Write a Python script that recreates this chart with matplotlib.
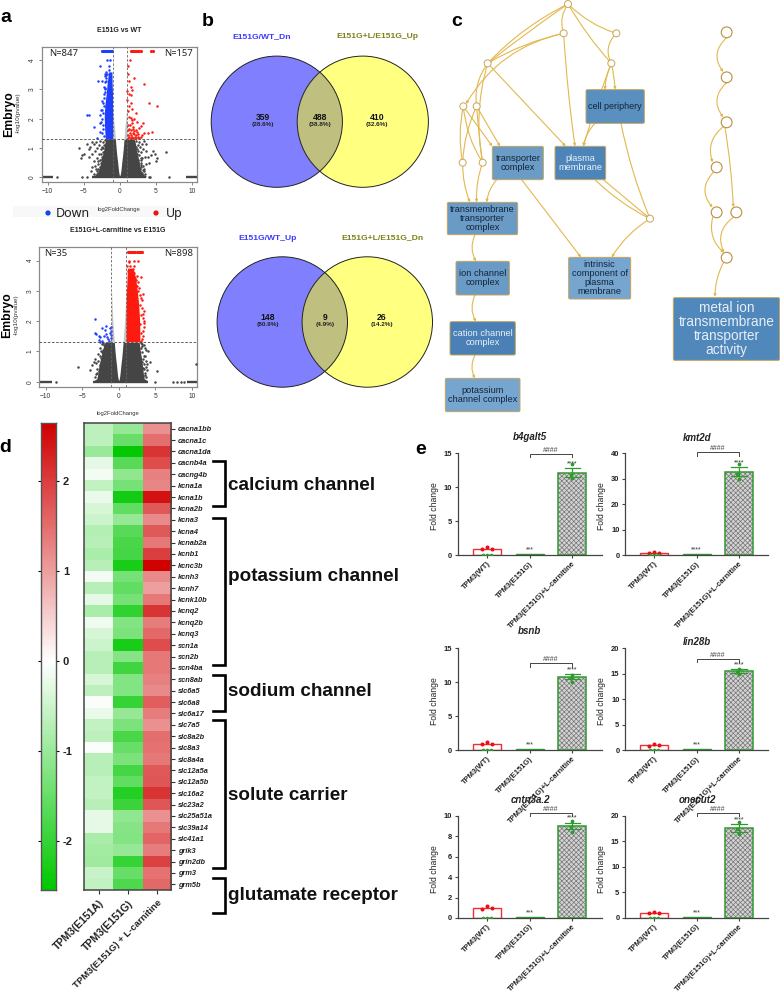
import numpy as np
import matplotlib
matplotlib.use('Agg')
import matplotlib.pyplot as plt
from matplotlib.colors import LinearSegmentedColormap, TwoSlopeNorm
from matplotlib.patches import Circle, FancyBboxPatch, FancyArrowPatch
from matplotlib.transforms import Affine2D

plt.rcParams['font.family'] = ['Liberation Sans', 'DejaVu Sans']
plt.rcParams['hatch.linewidth'] = 0.5
W, H = 780, 992
fig = plt.figure(figsize=(W/100, H/100), dpi=100, facecolor='white')

def axpx(l, t, r, b, **k):
    return fig.add_axes([l/W, 1-b/H, (r-l)/W, (b-t)/H], **k)

ov = fig.add_axes([0, 0, 1, 1], zorder=5)
ov.set_xlim(0, W); ov.set_ylim(H, 0); ov.axis('off'); ov.patch.set_alpha(0)

# ---------- a: volcano data
FDR = 1.3
v1_title = 'E151G vs WT'
v1_band_y = [0.02, 0.1, 0.2, 0.35, 0.55, 0.75, 0.95, 1.15, 1.3]
v1_outer_l = [-3.8, -3.3, -3.0, -2.8, -2.6, -2.4, -2.2, -2.1, -1.9]
v1_inner_l = [0.0, -0.08, -0.15, -0.22, -0.3, -0.4, -0.48, -0.55, -0.6]
v1_inner_r = [0.0, 0.08, 0.15, 0.22, 0.3, 0.4, 0.48, 0.55, 0.6]
v1_outer_r = [3.8, 3.3, 3.0, 2.8, 2.7, 2.5, 2.3, 2.2, 2.0]
v1_blue_y = [1.3, 1.7, 2.1, 2.5, 2.9, 3.2, 3.6]
v1_blue_l = [-2.0, -2.1, -2.15, -2.05, -1.85, -1.75, -1.55]
v1_blue_r = [-1.0, -1.0, -1.0, -1.0, -1.0, -1.05, -1.08]
v1_grey_y = [1.3, 1.7, 2.0, 2.35]
v1_grey_in = [0.6, 0.72, 0.85, 0.98]
v1_dark_x = [-5.6,-5.3,-5.4,-4.9,-4.5,-4.3,-4.1,-3.9,-3.6,-3.3,-4.2,-3.8,-3.4,-3.1,-2.9,-2.7,-3.6,-3.2,-2.9,-2.8,-2.6,-3.9,-3.4,-4.0,-3.0,-2.6,-2.5,-2.3,-2.4,
             6.4,5.2,4.9,4.6,4.4,3.7,3.4,3.1,3.6,3.2,2.8,3.9,3.5,3.1,4.1,3.7,3.3,3.0,2.8,3.4,5.0,2.7,2.6,2.5,2.9,3.0,
             -3.5,-3.2,-3.0,-2.8,-2.6,-2.5,-2.3,-2.2,-2.4,-2.1,-2.7,-3.1,-2.95,-3.3,-2.65,-2.35,
             3.5,3.2,3.0,2.8,2.7,2.6,2.4,2.3,2.5,2.2,2.9,3.15,2.95,3.35,2.65,2.35]
v1_dark_y = [1.0,0.75,0.65,0.8,1.15,0.95,1.05,1.2,1.15,1.2,0.7,0.8,0.9,1.0,1.1,1.25,0.55,0.65,0.8,0.35,0.5,0.35,0.4,0.2,0.28,0.95,1.05,1.2,0.7,
             0.85,0.65,0.8,0.9,0.75,1.15,1.25,1.15,0.9,0.95,1.05,0.7,0.7,0.65,0.5,0.45,0.4,0.5,0.3,0.2,0.55,1.2,0.9,1.1,0.85,0.35,
             0.12,0.22,0.45,0.15,0.3,0.62,0.85,1.1,0.4,1.28,0.6,0.13,0.55,0.28,0.78,1.0,
             0.13,0.25,0.42,0.18,0.33,0.6,0.8,1.05,0.45,1.25,0.65,0.15,0.6,0.3,0.75,0.98]
v1_blue_x = [-4.6,-4.2,-2.8,-3.05,-2.45,-3.5,-2.8,-2.8,-3.15,-2.7,-2.2,-2.0,-1.7,-1.4,-2.0,-1.76,-2.6,-2.5,-2.1,-2.6,-2.05,-1.9,-1.95,-2.45,-1.55,-1.45,
             -2.25,-2.35,-2.4,-2.3,-2.2,-2.15,-2.3,-2.1,-2.0,-1.9,-1.85,-2.2,-2.35,-2.5]
v1_blue_y_pts = [2.12,2.12,3.8,3.3,3.3,1.73,1.84,2.12,1.35,1.55,3.1,3.45,4.0,4.0,3.52,3.52,2.3,2.6,2.9,1.9,3.0,3.6,3.3,1.5,3.65,3.8,
                 1.4,1.65,2.0,2.2,2.45,2.7,1.8,3.05,3.25,3.4,3.5,2.85,2.55,2.3]
v1_red_x = [1.4,1.15,1.15,2.05,1.25,3.4,1.5,1.7,1.0,1.25,1.55,1.0,1.55,4.0,5.2,1.25,1.1,1.7,1.25,1.5,1.7,2.05,2.4,2.9,3.1,3.4,3.9,4.5,3.25,2.9,
            1.1,1.3,1.5,1.7,1.9,2.1,2.3,2.5,2.7,1.2,1.4,1.6,1.8,2.0,2.2,2.4,2.6,1.1,1.35,1.55,1.8,2.05,2.3,1.9,1.2,1.45,1.7,2.7,2.2]
v1_red_y = [4.0,3.8,3.52,3.4,3.3,3.18,3.07,2.98,2.95,2.84,2.8,2.65,2.55,2.55,2.43,2.45,2.28,2.33,2.05,2.03,1.95,1.98,1.9,1.36,1.44,1.5,1.53,1.55,1.84,1.76,
            1.33,1.36,1.33,1.38,1.34,1.37,1.33,1.38,1.35,1.45,1.5,1.44,1.52,1.47,1.43,1.55,1.48,1.62,1.65,1.6,1.66,1.58,1.62,1.72,1.8,1.78,1.85,1.68,2.2]
v1_top_blue = [-2.4,-2.3,-2.2,-2.1,-2.0,-1.9,-1.8,-1.7,-1.6,-1.5,-1.4,-1.3,-1.2,-1.1]
v1_top_red = [1.5,1.7,1.85,2.0,2.15,2.3,2.45,2.6,2.7,3.0,4.4,4.6]
v1_zero_runs = [(-10.8, -9.3), (-3.9, 3.7), (9.2, 10.8)]
v1_zero_pts = [-8.7, -5.3, -4.5, 4.0, 4.2, 6.9]

v2_title = 'E151G+L-carnitine vs E151G'
v2_band_y = [0.02, 0.1, 0.2, 0.35, 0.55, 0.75, 0.95, 1.15, 1.3]
v2_outer_l = [-3.5, -3.0, -2.9, -2.8, -2.7, -2.5, -2.3, -2.1, -1.9]
v2_inner_l = [0.0, -0.08, -0.15, -0.22, -0.3, -0.4, -0.48, -0.55, -0.6]
v2_inner_r = [0.0, 0.08, 0.15, 0.22, 0.3, 0.4, 0.48, 0.55, 0.6]
v2_outer_r = [4.0, 3.5, 3.4, 3.35, 3.25, 3.15, 3.0, 2.9, 2.8]
v2_red_y = [1.32, 1.7, 2.1, 2.5, 2.9, 3.2, 3.5, 3.75]
v2_red_l = [1.0, 1.0, 1.0, 1.02, 1.05, 1.1, 1.15, 1.2]
v2_red_r = [2.9, 2.9, 2.85, 2.75, 2.6, 2.45, 2.25, 1.95]
v2_grey_y = [1.32, 1.7, 2.1, 2.6, 3.0]
v2_grey_in = [0.6, 0.72, 0.82, 0.92, 0.98]
v2_dark_x = [-5.6,-3.9,-3.6,-3.4,-3.2,-3.0,-2.8,-2.9,-2.6,-2.5,-2.3,-2.2,-2.1,
             5.2,4.3,4.0,3.8,3.6,3.9,3.7,3.5,3.2,10.6,3.4,3.6,3.9,3.3,3.1,
             -3.3,-3.1,-2.95,-2.75,-2.55,-2.4,-2.25,-2.0,-3.05,-2.65,-2.45,-2.15,
             3.8,3.6,3.5,3.45,3.35,3.25,3.15,3.05,3.7,3.55,3.3,3.2]
v2_dark_y = [0.5,0.4,0.55,0.65,0.75,0.3,0.7,0.9,0.85,1.1,1.25,0.95,1.05,
             0.35,0.65,1.0,1.05,1.1,0.4,0.7,1.2,1.25,0.57,0.85,0.3,0.6,0.45,1.1,
             0.14,0.25,0.42,0.2,0.55,0.78,0.98,1.2,0.62,0.35,1.0,1.28,
             0.15,0.22,0.42,0.6,0.75,0.98,1.18,1.28,0.5,0.85,0.2,0.65]
v2_blue_x = [-3.25,-3.2,-3.05,-2.7,-2.5,-2.75,-2.5,-2.3,-1.75,-1.15,-1.0,-1.0,-1.2,-1.6,-1.05,-1.7,-2.05,-2.35,-1.45,-1.1,-1.3,-1.9]
v2_blue_y_pts = [2.07,1.6,1.57,1.5,1.47,1.38,1.32,1.78,1.85,1.76,1.82,1.68,1.6,1.47,1.43,1.57,1.5,1.35,1.4,1.55,1.35,1.7]
v2_red_xp = [3.05,3.3,3.4,3.35,3.3,3.5,3.3,1.4,2.05,2.65,1.15,1.6,2.05,1.35,1.8,1.3,1.55,1.9,3.4,3.3,3.2,3.45,3.25,
             3.05,3.0,2.95,3.1,3.15,2.9,2.85,2.7,2.55,2.4,2.3,2.15,2.0,2.8,3.0,2.65,2.5]
v2_red_yp = [3.47,2.89,2.34,2.25,2.1,1.82,1.68,4.0,4.0,4.0,3.82,3.82,3.82,3.95,3.7,3.65,3.68,3.62,2.0,1.5,2.7,1.95,1.42,
             1.35,1.6,1.9,2.2,2.45,2.55,2.85,3.0,3.15,3.35,3.42,3.6,3.72,3.1,2.75,3.3,3.5]
v2_top_red = [1.25,1.4,1.55,1.7,1.85,2.0,2.15,2.3,2.45,2.6,2.75,2.9,3.05,3.2]
v2_zero_runs = [(-10.8, -9.1), (-3.5, 4.0), (9.4, 10.8)]
v2_zero_pts = [-8.6, 5.0, 7.4, 8.0, 8.5, 9.0]

BLUE, RED, DARK = '#1f3fff', '#ff1a10', '#454545'
GREY = '#c4c4c4'

def volcano(box, xlim, ylim, band_y, ol, il, ir, orr, grey_y, grey_in):
    ax = axpx(*box)
    ax.set_xlim(*xlim); ax.set_ylim(*ylim)
    ax.fill_betweenx(band_y, ol, il, color=DARK, lw=0)
    ax.fill_betweenx(band_y, ir, orr, color=DARK, lw=0)
    ax.fill_betweenx(grey_y, [-1]*len(grey_y), [-g for g in grey_in], color=GREY, lw=0)
    ax.fill_betweenx(grey_y, grey_in, [1]*len(grey_y), color=GREY, lw=0)
    for s in ax.spines.values():
        s.set_color('#8a8a8a'); s.set_linewidth(0.9)
    ax.set_xticks([-10, -5, 0, 5, 10]); ax.set_yticks([0, 1, 2, 3, 4])
    ax.tick_params(labelsize=4.8, length=2.2, width=0.5, color='#555', labelcolor='#333', pad=2)
    for t in ax.get_yticklabels():
        t.set_rotation(90); t.set_va('center')
    return ax

def dots(ax, x, y, c, s=3.2):
    ax.scatter(x, y, s=s, c=c, linewidths=0, zorder=3)

def refs(ax):
    ax.axhline(FDR, color='#444', lw=0.6, ls=(0, (3, 2)), zorder=5)
    for v in (-1, 1):
        ax.axvline(v, color='#666', lw=0.6, ls=(0, (3, 2)), zorder=5)

a1 = volcano((41.7, 46.7, 197, 182), (-10.83, 10.73), (-0.16, 4.46),
             v1_band_y, v1_outer_l, v1_inner_l, v1_inner_r, v1_outer_r, v1_grey_y, v1_grey_in)
a1.fill_betweenx(v1_blue_y, v1_blue_l, v1_blue_r, color=BLUE, lw=0)
dots(a1, v1_dark_x, v1_dark_y, DARK)
dots(a1, v1_blue_x, v1_blue_y_pts, BLUE)
dots(a1, v1_red_x, v1_red_y, RED)
dots(a1, v1_top_blue, [4.3]*len(v1_top_blue), BLUE, 5)
dots(a1, v1_top_red, [4.3]*len(v1_top_red), RED, 5)
for r in v1_zero_runs:
    a1.plot(r, [0, 0], color=DARK, lw=1.7, solid_capstyle='butt')
dots(a1, v1_zero_pts, [0]*len(v1_zero_pts), DARK)
refs(a1)

a2 = volcano((39.3, 246.7, 197.3, 386.7), (-10.88, 10.77), (-0.165, 4.46),
             v2_band_y, v2_outer_l, v2_inner_l, v2_inner_r, v2_outer_r, v2_grey_y, v2_grey_in)
a2.fill_betweenx(v2_red_y, v2_red_l, v2_red_r, color=RED, lw=0)
dots(a2, v2_dark_x, v2_dark_y, DARK)
dots(a2, v2_blue_x, v2_blue_y_pts, BLUE)
dots(a2, v2_red_xp, v2_red_yp, RED)
dots(a2, v2_top_red, [4.3]*len(v2_top_red), RED, 5)
for r in v2_zero_runs:
    a2.plot(r, [0, 0], color=DARK, lw=1.7, solid_capstyle='butt')
dots(a2, v2_zero_pts, [0]*len(v2_zero_pts), DARK)
refs(a2)

def T(x, y, s, **k):
    k.setdefault('ha', 'center'); k.setdefault('va', 'center')
    return ov.text(x, y, s, **k)

for lab, x, y in [('a', 6, 17), ('b', 208, 21), ('c', 457, 21), ('d', 5, 447), ('e', 421, 450)]:
    T(x, y, lab, fontsize=14, fontweight='bold', ha='center')
T(119, 31, v1_title, fontsize=5.0, fontweight='bold', color='#222')
T(118, 231, v2_title, fontsize=5.0, fontweight='bold', color='#222')
T(9, 114, 'Embryo', fontsize=8.8, fontweight='bold', rotation=90)
T(7, 315, 'Embryo', fontsize=8.8, fontweight='bold', rotation=90)
T(18, 113, '-log10(pvalue)', fontsize=4.6, rotation=90, color='#333')
T(16, 315, '-log10(pvalue)', fontsize=4.6, rotation=90, color='#333')
T(119, 209, 'log2FoldChange', fontsize=4.2, color='#333')
T(118, 414, 'log2FoldChange', fontsize=4.2, color='#333')
T(49, 53.5, 'N=847', fontsize=6.8, ha='left', family='Noto Sans', color='#222')
T(193, 53.5, 'N=157', fontsize=6.8, ha='right', family='Noto Sans', color='#222')
T(44, 253, 'N=35', fontsize=6.8, ha='left', family='Noto Sans', color='#222')
T(193, 253, 'N=898', fontsize=6.8, ha='right', family='Noto Sans', color='#222')
ov.fill_between([13, 180], 206, 217, color='#f8f8f8', lw=0, zorder=0)
ov.add_patch(Circle((48, 213), 2.6, fc='#1244f5', ec='none'))
ov.add_patch(Circle((156, 213), 2.6, fc='#f51010', ec='none'))
T(56, 213.5, 'Down', fontsize=9, ha='left', family='Noto Sans', color='#222')
T(166, 213.5, 'Up', fontsize=9, ha='left', family='Noto Sans', color='#222')

# ---------- b: Venn
venn_labels = [('E151G/WT_Dn', 'E151G+L/E151G_Up'), ('E151G/WT_Up', 'E151G+L/E151G_Dn')]
venn_counts = [(359, 488, 410), (148, 9, 26)]
venn_pcts = [('28.6', '38.8', '32.6'), ('80.9', '4.9', '14.2')]
venn_geo = [(276.8, 362.8, 121.7, 65.6, 37, 262, 377, (262.7, 320, 377)),
            (282.3, 367.3, 322, 65.2, 238, 268, 382, (268, 324.7, 381.7))]
for (c1, c2, cy, r, ly, lx1, lx2, nx), labs, cnt, pct in zip(venn_geo, venn_labels, venn_counts, venn_pcts):
    ov.add_patch(Circle((c1, cy), r, fc='#8080ff', ec='none'))
    ov.add_patch(Circle((c2, cy), r, fc='#ffff80', ec='none'))
    inter = Circle((c2, cy), r, fc='#bfbf80', ec='none')
    ov.add_patch(inter)
    inter.set_clip_path(Circle((c1, cy), r, transform=ov.transData))
    ov.add_patch(Circle((c1, cy), r, fc='none', ec='#222', lw=0.7))
    ov.add_patch(Circle((c2, cy), r, fc='none', ec='#222', lw=0.7))
    T(lx1, ly, labs[0], color='#3a3aff', fontsize=6.1, fontweight='bold')
    T(lx2, ly, labs[1], color='#80801a', fontsize=6.1, fontweight='bold')
    for x, n, p in zip(nx, cnt, pct):
        T(x, cy-4.2, str(n), fontsize=6.2, fontweight='bold', color='#111')
        T(x, cy+2.8, f'({p}%)', fontsize=4.6, fontweight='bold', color='#222')

# ---------- c: GO graph (coordinates in zoomed reference units)
def Z(p):
    return (440 + p[0]/3, p[1]/3)
GOLD = '#e3b84e'
edges = [((384,12),(143,190),.09),((384,12),(143,190),.02),((384,12),(371,100),.25),((384,12),(529,100),.12),
         ((384,12),(514,190),.05),((371,100),(143,190),.08),((371,100),(78,312),.22),((371,100),(405,439),.02),
         ((529,100),(514,190),.35),((514,190),(495,269),.1),((514,190),(525,269),-.05),((514,190),(430,439),.02),
         ((143,190),(110,319),.2),((143,190),(128,488),.12),((143,190),(377,439),.0),
         ((70,319),(68,488),.1),((70,319),(128,488),.12),((70,319),(157,439),.0),((110,319),(68,488),.1),
         ((110,319),(180,439),.0),((110,319),(128,488),.02),((68,488),(90,607),.1),((128,488),(110,607),.1),
         ((170,539),(140,607),.15),((245,539),(423,772),.0),((465,539),(630,656),.08),((490,539),(630,656),.0),
         ((543,370),(630,656),.05),((465,370),(430,439),.15),((630,656),(515,772),.12),
         ((105,704),(108,784),.25),((105,885),(108,965),.25),((105,1065),(105,1135),.25),
         ((860,113),(850,216),.45),((860,248),(850,352),.45),((850,380),(818,487),.35),((855,383),(880,622),-.03),
         ((820,517),(818,622),.45),((818,652),(852,758),.3),((880,652),(852,758),.4),((850,788),(825,890),.12)]
for a, b, rad in edges:
    ov.add_patch(FancyArrowPatch(Z(a), Z(b), connectionstyle=f'arc3,rad={rad}', arrowstyle='-|>',
                                 mutation_scale=3.5, lw=0.8, color=GOLD, shrinkA=0, shrinkB=0, zorder=1))
small_nodes = [(384,12),(371,100),(529,100),(514,190),(143,190),(70,319),(110,319),(68,488),(128,488),(630,656)]
big_nodes = [(860,97),(860,232),(860,367),(830,502),(830,637),(889,637),(860,773)]
for p in small_nodes:
    ov.add_patch(Circle(Z(p), 3.5, fc='white', ec='#c9a65a', lw=0.7, zorder=2))
for p in big_nodes:
    ov.add_patch(Circle(Z(p), 5.4, fc='white', ec='#b98f3e', lw=0.8, zorder=2))
go_boxes = [('cell periphery', 438,269,613,370,'#5a90c0','#14263a',6.5),
            ('transporter\ncomplex', 157,439,310,539,'#6b9cc7','#14263a',6.7),
            ('plasma\nmembrane', 345,439,497,539,'#4d85ba','#e8f0f8',6.7),
            ('transmembrane\ntransporter\ncomplex', 22,607,233,704,'#6a9ac6','#14263a',6.7),
            ('ion channel\ncomplex', 48,784,208,885,'#6a9ac6','#14263a',6.7),
            ('cation channel\ncomplex', 30,965,226,1065,'#4a80b5','#e8f0f8',6.7),
            ('potassium\nchannel complex', 16,1135,240,1235,'#76a5cf','#14263a',6.7),
            ('intrinsic\ncomponent of\nplasma\nmembrane', 386,772,572,897,'#76a5cf','#14263a',6.7),
            ('metal ion\ntransmembrane\ntransporter\nactivity', 700,893,1019,1081,'#5088bb','#e6eef6',9.8)]
for name, x0, y0, x1, y1, fc, tc, fs in go_boxes:
    (l, t), (r, b) = Z((x0, y0)), Z((x1, y1))
    ov.add_patch(FancyBboxPatch((l+1, t+1), r-l-2, b-t-2, boxstyle='round,pad=1,rounding_size=1.5',
                                fc=fc, ec='#c5a35a', lw=0.7, zorder=3))
    T((l+r)/2, (t+b)/2, name, fontsize=fs, color=tc, zorder=4, linespacing=1.0)

# ---------- d: heatmap
genes = ['cacna1bb','cacna1c','cacna1da','cacnb4a','cacng4b','kcna1a','kcna1b','kcna2b','kcna3','kcna4','kcnab2a',
         'kcnb1','kcnc3b','kcnh3','kcnh7','kcnk10b','kcnq2','kcnq2b','kcnq3','scn1a','scn2b','scn4ba','scn8ab',
         'slc6a5','slc6a8','slc6a17','slc7a5','slc8a2b','slc8a3','slc8a4a','slc12a5a','slc12a5b','slc16a2','slc23a2',
         'slc25a51a','slc39a14','slc41a1','grik3','grin2db','grm3','grm5b']
col_e151a = [-.65,-.65,-1.0,-.25,-.1,-.6,-.2,-.4,-.5,-.75,-.7,-.85,-.7,-.1,-.7,-.25,-.85,-.15,-.4,-.5,-.7,-.7,-.4,
             -.65,-.05,-.2,-.6,-.65,-.05,-.7,-.7,-.6,-.6,-.7,-.25,-.25,-.85,-.9,-.95,-.55,-.6]
col_e151g = [-1.05,-1.5,-2.5,-1.65,-1.1,-1.35,-2.35,-1.55,-1.05,-1.65,-1.8,-1.85,-2.3,-1.35,-1.55,-1.35,-2.05,-1.25,
             -1.3,-2.3,-1.2,-1.9,-1.25,-1.25,-2.0,-1.05,-1.3,-1.8,-1.5,-1.3,-1.85,-1.55,-2.2,-1.95,-1.1,-1.2,-1.25,-1.05,-2.0,-1.5,-1.75]
col_carn = [1.14,1.5,2.1,1.85,1.3,1.25,2.45,1.7,1.2,1.7,1.4,2.0,2.6,1.2,1.0,1.4,2.1,1.35,1.55,1.85,1.4,1.4,1.3,
            1.2,1.65,1.35,1.15,1.5,1.45,1.4,1.7,1.75,2.1,1.75,1.15,1.4,1.6,1.35,1.95,1.45,1.55]
conds = ['TPM3(E151A)', 'TPM3(E151G)', 'TPM3(E151G) + L-carnitine']
cb_ticks = [-2, -1, 0, 1, 2]
cmap = LinearSegmentedColormap.from_list('gwr', ['#00c800', '#ffffff', '#d00000'])
VMIN, VMAX = -2.54, 2.64
norm = TwoSlopeNorm(vmin=VMIN, vcenter=0, vmax=VMAX)
hm = axpx(84, 423, 171.3, 890)
hm.imshow(np.array([col_e151a, col_e151g, col_carn]).T, cmap=cmap, norm=norm, aspect='auto', interpolation='nearest')
hm.set_yticks(range(len(genes)))
hm.set_yticklabels(genes, fontsize=5.3, fontweight='bold', fontstyle='italic', color='#222')
hm.yaxis.tick_right()
hm.set_xticks(range(3))
hm.set_xticklabels(conds, fontsize=7.5, fontweight='bold', rotation=45, ha='right', rotation_mode='anchor', color='#222')
hm.get_xticklabels()[2].set_fontsize(6.8)
for t in hm.get_xticklabels():
    t.set_transform(t.get_transform() + Affine2D().translate(5, 0))
hm.tick_params(axis='y', length=3, width=0.8, color='#333', pad=1.5)
hm.tick_params(axis='x', length=3, width=0.8, color='#333', pad=3)
for s in hm.spines.values():
    s.set_linewidth(1.1); s.set_color('#444')

cb = axpx(41.3, 423, 56, 890)
cb.pcolormesh([0, 1], np.linspace(VMIN, VMAX, 300), np.linspace(VMIN, VMAX, 299)[:, None], cmap=cmap, norm=norm)
cb.set_xticks([]); cb.set_ylim(VMIN, VMAX)
cb.set_yticks(cb_ticks)
cb.tick_params(axis='y', left=True, right=True, labelleft=False, labelright=True, length=2, width=0.8, direction='out', pad=3)
cb.set_yticklabels(['-2', '-1', '0', '1', '2'], fontsize=8, fontweight='bold', color='#222')
for k, s in cb.spines.items():
    s.set_linewidth(1.0); s.set_color('#555')

groups = [('calcium channel', 461.3, 506, 485), ('potassium channel', 517.7, 665.3, 576.7),
          ('sodium channel', 675.3, 710.7, 692), ('solute carrier', 720, 868, 795),
          ('glutamate receptor', 878.3, 913, 896)]
for name, t, b, ty in groups:
    ov.plot([213.3, 224.5, 224.5, 213.3], [t, t, b, b], color='black', lw=1.9, solid_joinstyle='miter')
    T(228, ty, name, fontsize=13.6, fontweight='bold', ha='left', color='#111')

# ---------- e: bars
bar_labels = ['TPM3(WT)', 'TPM3(E151G)', 'TPM3(E151G)+L-carnitine']
panels = [('b4galt5', (457.7, 453.3, 601.7, 555.3), 15, [0, 5, 10, 15], [1.0, .15, 12.1], (12.8, 11.47), [13.4, 11.8, 11.3], '***', 14.85, 14.4, (530, 436.7)),
          ('kmt2d', (625, 453.3, 768.3, 555.3), 40, [0, 10, 20, 30, 40], [1.0, .45, 32.7], (34.5, 31.0), [36, 32, 30], '****', 40.4, 39.1, (697, 437.7)),
          ('bsnb', (457.7, 648.3, 601.7, 750.3), 15, [0, 5, 10, 15], [1.0, .15, 10.8], (11.2, 10.5), [11.1, 10.7, 10.1], '***', 12.8, 12.3, (530, 631)),
          ('lin28b', (625, 648.3, 768.3, 750.3), 20, [0, 5, 10, 15, 20], [1.0, .2, 15.5], (15.9, 15.1), [16, 15.4, 14.9], '***', 17.9, 17.3, (697, 642)),
          ('cntn3a.2', (457.7, 815.7, 601.7, 918), 10, [0, 2, 4, 6, 8, 10], [1.0, .08, 9.0], (9.3, 8.7), [9.5, 8.9, 8.4], '***', 10.3, 10.0, (530, 800)),
          ('onecut2', (625, 815.7, 768.3, 918), 20, [0, 5, 10, 15, 20], [1.0, .15, 17.6], (18.3, 16.9), [18.7, 17.4, 16.5], '***', 20.6, 20.0, (697, 800))]
wt_points = [0.9, 1.15, 1.0]
RB, GB = '#f03030', '#2f9a2f'
for name, box, ymax, ticks, vals, err, pts3, st, by, by2, tpos in panels:
    ax = axpx(*box)
    ax.patch.set_alpha(0)
    ax.set_xlim(-0.686, 2.686); ax.set_ylim(0, ymax)
    ax.bar(0, vals[0], width=.66, fc='white', ec=RB, lw=1.0, zorder=2)
    ax.bar(1, vals[1], width=.66, fc='white', ec=GB, lw=1.0, zorder=2)
    ax.bar(2, vals[2], width=.66, fc='#d4d4d4', ec='#777777', lw=0, hatch='xxxxxxx', zorder=2)
    ax.bar(2, vals[2], width=.66, fc='none', ec=GB, lw=1.1, zorder=3)
    ax.plot([-.12, 0, .12], [v*vals[0] for v in wt_points], ls='none', marker='o', ms=1.9, color='#e8101a', zorder=4)
    ax.plot([-.1, 0, .1], [vals[1]*.4]*3, ls='none', marker='o', ms=1.6, color=GB, zorder=4)
    ax.plot([-.1, .1], [vals[0]]*2, color=RB, lw=0.7, zorder=3)
    ax.plot([2, 2], err, color=GB, lw=0.9, zorder=4, clip_on=False)
    for e in err:
        ax.plot([1.82, 2.18], [e, e], color=GB, lw=0.9, zorder=4, clip_on=False)
    ax.plot([2, 1.96, 2], pts3, ls='none', marker='o', ms=1.7, color=GB, zorder=5, clip_on=False)
    ax.plot([1, 1, 2, 2], [by2, by, by, by2], color='#444', lw=0.7, clip_on=False)
    ax.text(1.5, by, '####', fontsize=5, ha='center', va='bottom', color='#444', clip_on=False)
    ax.text(2, err[0] + 0.045*ymax, '****', fontsize=5, ha='center', va='center', color='#333', clip_on=False)
    ax.text(1, vals[1] + 0.045*ymax, st, fontsize=5, ha='center', va='center', color='#333')
    ax.set_xticks([0, 1, 2])
    ax.set_xticklabels(bar_labels, rotation=45, ha='right', rotation_mode='anchor', fontsize=5.4, fontweight='bold', color='#222')
    for t in ax.get_xticklabels():
        t.set_transform(t.get_transform() + Affine2D().translate(6, 0))
    ax.set_yticks(ticks)
    ax.tick_params(axis='y', labelsize=5.4, length=2, width=0.8, color='#444', pad=2, labelcolor='#222')
    for t in ax.get_yticklabels():
        t.set_fontweight('bold')
    ax.tick_params(axis='x', length=2, width=0.8, color='#444', pad=1.5)
    for s in ('top', 'right'):
        ax.spines[s].set_visible(False)
    for s in ('left', 'bottom'):
        ax.spines[s].set_linewidth(0.9); ax.spines[s].set_color('#444')
    lx = box[0] - 23.5
    T(lx, (box[1]+box[3])/2 + 2, 'Fold change', fontsize=6.2, rotation=90, color='#222')
    T(tpos[0], tpos[1], name, fontsize=7, fontweight='bold', fontstyle='italic', color='#222')

fig.savefig('out.png', dpi=100)
